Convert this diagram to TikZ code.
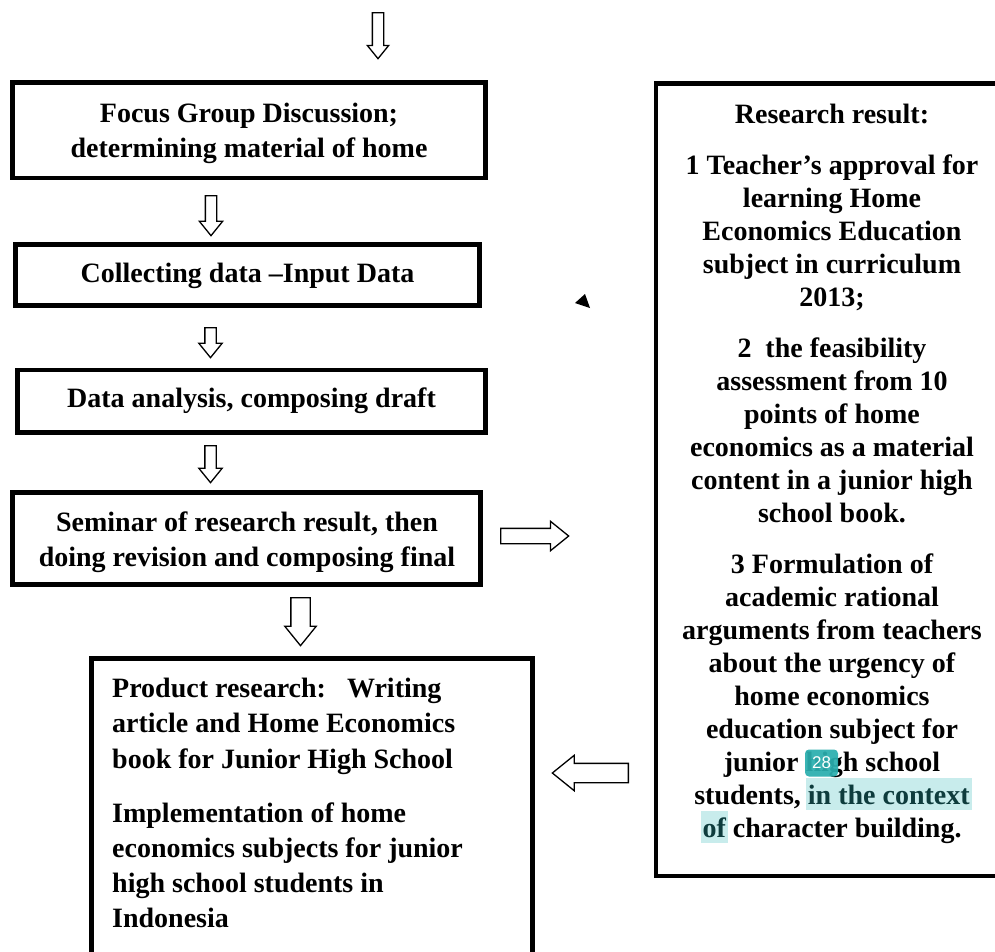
\documentclass[tikz,border=0pt]{standalone}
\usepackage{fontspec}
\setmainfont{Liberation Serif}
\newfontfamily\badgefont{Liberation Sans}
\usetikzlibrary{shapes.arrows}
\definecolor{hlc}{HTML}{C8ECEC}
\definecolor{hltext}{HTML}{0E3C3D}
\definecolor{badgec}{HTML}{2AAEAE}
\newcommand\hlt[1]{\setbox0\hbox{#1}\smash{\rlap{\hspace{-2pt}\textcolor{hlc}{\rule[-5pt]{\dimexpr\wd0+4pt\relax}{32pt}}}}\textcolor{hltext}{#1}}
\begin{document}
\begin{tikzpicture}[x=1pt,y=-1pt,
  box/.style={draw, line width=4.5pt, inner sep=0pt},
  boxtext/.style={font=\fontsize{28}{35.5}\selectfont\bfseries, align=center, inner sep=0pt},
  hollow/.style={single arrow, draw, line width=1.3pt, fill=white, inner xsep=0pt, single arrow tip angle=78, anchor=tail},
  badge/.style={fill=badgec, fill opacity=0.93, text opacity=1, text=white, rounded corners=4pt, minimum width=33pt, minimum height=27pt, inner sep=0pt, font=\badgefont\fontsize{17}{17}\selectfont}]
\useasboundingbox (0,0) rectangle (995,951);
\clip (0,0) rectangle (995,951);
% left column boxes
\node[box, minimum width=473pt, minimum height=95.5pt] (b1) at (249,130.25) {};
\node[boxtext] (b1t) at (249,133.5) {Focus Group Discussion;\\determining material of home};
\node[box, minimum width=464pt, minimum height=61pt] (b2) at (247.5,275) {};
\node[boxtext] (b2t) at (247.5,276) {Collecting data –Input Data};
\node[box, minimum width=468pt, minimum height=62.5pt] (b3) at (251.5,401.25) {};
\node[boxtext] (b3t) at (251.5,400.5) {Data analysis, composing draft};
\node[box, minimum width=468pt, minimum height=92pt] (b4) at (246.5,538.5) {};
\node[boxtext] (b4t) at (247,542) {Seminar of research result, then\\doing revision and composing final};
% bottom box
\node[box, minimum width=441pt, minimum height=311.5pt] (b5) at (312,814.25) {};
\node[font=\fontsize{28}{35.2}\selectfont\bfseries, align=left, anchor=north west, inner sep=0pt] (b5t) at (112,678) {Product research:\hspace{21pt}Writing\\article and Home Economics\\book for Junior High School\\[19pt]Implementation of home\\economics subjects for junior\\high school students in\\Indonesia};
% right box
\node[box, minimum width=354pt, minimum height=792.5pt] (rr) at (833,479.75) {};
\node[font=\fontsize{28}{33}\selectfont\bfseries, align=center, inner sep=0pt] (rrt) at (832,474) {Research result:\\[18pt]1 Teacher’s approval for\\learning Home\\Economics Education\\subject in curriculum\\2013;\\[18pt]2\ \ the feasibility\\assessment from 10\\points of home\\economics as a material\\content in a junior high\\school book.\\[18pt]3 Formulation of\\academic rational\\arguments from teachers\\about the urgency of\\home economics\\education subject for\\junior high school\\students, \hlt{in the context}\\\hlt{of} character building.};
% hollow arrows
\node[hollow, rotate=-90, minimum height=46pt, inner ysep=5pt, single arrow head extend=5pt] (a0) at (378,12) {};
\node[hollow, rotate=-90, minimum height=40pt, inner ysep=5pt, single arrow head extend=6pt] (a1) at (211,195) {};
\node[hollow, rotate=-90, minimum height=30pt, inner ysep=5pt, single arrow head extend=6pt] (a2) at (210.5,327) {};
\node[hollow, rotate=-90, minimum height=37pt, inner ysep=5pt, single arrow head extend=6pt] (a3) at (210.5,445) {};
\node[hollow, rotate=-90, minimum height=48pt, inner ysep=9pt, single arrow head extend=6pt] (a4) at (300.5,597) {};
\node[hollow, minimum height=68pt, inner ysep=7pt, single arrow head extend=7pt] (a5) at (500,536) {};
\node[hollow, rotate=180, minimum height=76pt, inner ysep=9pt, single arrow head extend=8pt] (a6) at (629,773) {};
% small triangle
\fill (575,303) -- (585,294) -- (590,308) -- cycle;
% badge
\node[badge] (bd) at (821.5,763) {28};
\end{tikzpicture}
\end{document}
